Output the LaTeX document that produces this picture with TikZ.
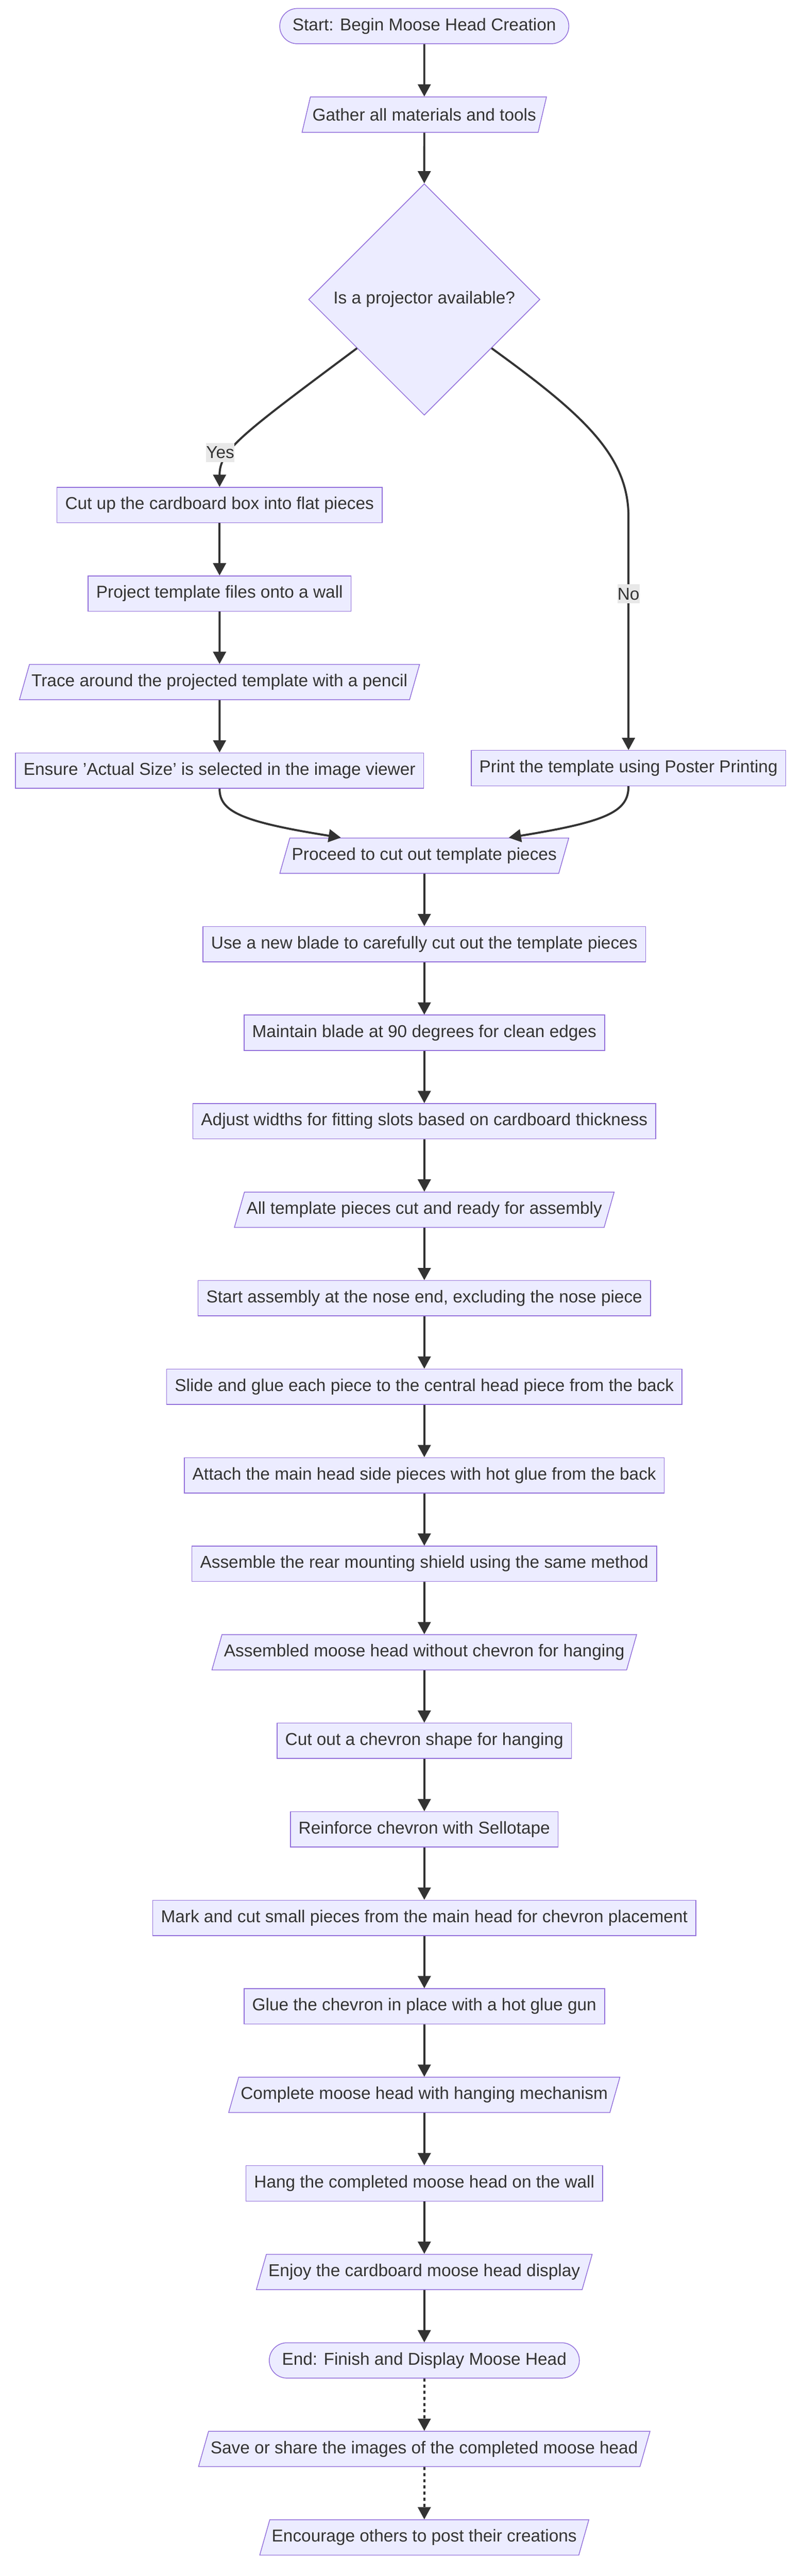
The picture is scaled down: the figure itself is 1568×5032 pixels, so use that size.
\documentclass[tikz,border=0pt]{standalone}
\usepackage{fontspec}
\setmainfont{Liberation Sans}
\usetikzlibrary{shapes.geometric, arrows.meta, positioning, calc}
\definecolor{nodeLilac}{RGB}{236, 236, 255}
\definecolor{borderPurple}{RGB}{147, 112, 219}
\definecolor{inkGray}{RGB}{51, 51, 51}
\definecolor{labelGray}{RGB}{232, 232, 232}
\tikzset{
    % Base Block Style
    baseBox/.style={
        draw=borderPurple,
        fill=nodeLilac,
        line width=0.75pt,
        text=inkGray,
        font=\fontsize{16.8pt}{20pt}\selectfont,
        minimum height=34.5pt,
        inner ysep=2pt
    },
    % Specific Shape Styles
    stepRect/.style={baseBox, rectangle, inner xsep=8pt},
    stepData/.style={baseBox, trapezium, trapezium stretches=true, trapezium left angle=63.5, trapezium right angle=116.5, inner xsep=2pt},
    stepTerm/.style={baseBox, rectangle, rounded corners=17.25pt, inner xsep=12.5pt},
    stepDecision/.style={baseBox, diamond, aspect=1, minimum width=226pt, minimum height=226pt, inner sep=0pt},
    % Arrow & Label Styles
    arrow/.style={-{Triangle[length=12pt, width=12.5pt]}, line width=2pt, draw=inkGray},
    dotArrow/.style={arrow, dash pattern=on 3pt off 3pt},
    edgeLabel/.style={fill=labelGray, text=inkGray, font=\fontsize{16.8pt}{20pt}\selectfont, inner sep=0pt, minimum height=18.5pt}
}
\begin{document}
\begin{tikzpicture}[
    x=0.5pt, y=-0.5pt,
    node distance=51.2pt
]
    \useasboundingbox (0,0) rectangle (1568,5032);

    % --- TOP (Start and Decision) ---
    \node (start) [stepTerm] at (829,51) {Start: Begin Moose Head Creation};
    \node (gather) [stepData, below=of start] {Gather all materials and tools};
    \node (decide) [stepDecision] at (829,585) {Is a projector available?};

    % --- LEFT BRANCH (Projector) ---
    \node (cutBox) [stepRect] at (429,986.5) {Cut up the cardboard box into flat pieces};
    \node (projectWall) [stepRect, below=of cutBox] {Project template files onto a wall};
    \node (tracePencil) [stepData, below=of projectWall] {Trace around the projected template with a pencil};
    \node (actualSize) [stepRect, below=of tracePencil] {Ensure 'Actual Size' is selected in the image viewer};

    % --- RIGHT BRANCH (No projector) ---
    \node (posterPrint) [stepRect] at (1228,1500.5) {Print the template using Poster Printing};

    % --- MAIN COLUMN (Cutting and Assembly) ---
    \node (proceedCut) [stepData] at (829,1671.5) {Proceed to cut out template pieces};
    \node (newBlade) [stepRect, below=of proceedCut] {Use a new blade to carefully cut out the template pieces};
    \node (blade90) [stepRect, below=of newBlade] {Maintain blade at 90 degrees for clean edges};
    \node (adjustSlots) [stepRect, below=of blade90] {Adjust widths for fitting slots based on cardboard thickness};
    \node (piecesReady) [stepData, below=of adjustSlots] {All template pieces cut and ready for assembly};
    \node (noseStart) [stepRect, below=of piecesReady] {Start assembly at the nose end, excluding the nose piece};
    \node (slideGlue) [stepRect, below=of noseStart] {Slide and glue each piece to the central head piece from the back};
    \node (sidePieces) [stepRect, below=of slideGlue] {Attach the main head side pieces with hot glue from the back};
    \node (rearShield) [stepRect, below=of sidePieces] {Assemble the rear mounting shield using the same method};
    \node (headNoChevron) [stepData, below=of rearShield] {Assembled moose head without chevron for hanging};

    % --- CHEVRON AND HANGING ---
    \node (cutChevron) [stepRect, below=of headNoChevron] {Cut out a chevron shape for hanging};
    \node (tapeChevron) [stepRect, below=of cutChevron] {Reinforce chevron with Sellotape};
    \node (markCut) [stepRect, below=of tapeChevron] {Mark and cut small pieces from the main head for chevron placement};
    \node (glueChevron) [stepRect, below=of markCut] {Glue the chevron in place with a hot glue gun};
    \node (headComplete) [stepData, below=of glueChevron] {Complete moose head with hanging mechanism};
    \node (hangHead) [stepRect, below=of headComplete] {Hang the completed moose head on the wall};
    \node (enjoyHead) [stepData, below=of hangHead] {Enjoy the cardboard moose head display};
    \node (finish) [stepTerm, below=of enjoyHead] {End: Finish and Display Moose Head};
    \node (shareImages) [stepData, below=of finish] {Save or share the images of the completed moose head};
    \node (encourage) [stepData, below=of shareImages] {Encourage others to post their creations};

    % --- Arrows ---
    \draw [arrow] (start) -- (gather);
    \draw [arrow] (gather) -- (decide);
    \draw [arrow] ($(decide.west)!0.42!(decide.south)$) .. controls (470,850) and (429,880) .. (cutBox)
        node [edgeLabel, pos=0.65, xshift=-10pt] {Yes};
    \draw [arrow] ($(decide.east)!0.42!(decide.south)$) .. controls (1140,810) and (1228,890) .. (1228,1010)
        -- (posterPrint) node [edgeLabel, pos=0.33] {No};
    \draw [arrow] (cutBox) -- (projectWall);
    \draw [arrow] (projectWall) -- (tracePencil);
    \draw [arrow] (tracePencil) -- (actualSize);
    \draw [arrow] (actualSize.south) .. controls (429,1585) and (470,1605) .. ($(proceedCut.north)+(-163,0)$);
    \draw [arrow] (posterPrint.south) .. controls (1228,1585) and (1187,1605) .. ($(proceedCut.north)+(165,0)$);
    \draw [arrow] (proceedCut) -- (newBlade);
    \draw [arrow] (newBlade) -- (blade90);
    \draw [arrow] (blade90) -- (adjustSlots);
    \draw [arrow] (adjustSlots) -- (piecesReady);
    \draw [arrow] (piecesReady) -- (noseStart);
    \draw [arrow] (noseStart) -- (slideGlue);
    \draw [arrow] (slideGlue) -- (sidePieces);
    \draw [arrow] (sidePieces) -- (rearShield);
    \draw [arrow] (rearShield) -- (headNoChevron);
    \draw [arrow] (headNoChevron) -- (cutChevron);
    \draw [arrow] (cutChevron) -- (tapeChevron);
    \draw [arrow] (tapeChevron) -- (markCut);
    \draw [arrow] (markCut) -- (glueChevron);
    \draw [arrow] (glueChevron) -- (headComplete);
    \draw [arrow] (headComplete) -- (hangHead);
    \draw [arrow] (hangHead) -- (enjoyHead);
    \draw [arrow] (enjoyHead) -- (finish);
    \draw [dotArrow] (finish) -- (shareImages);
    \draw [dotArrow] (shareImages) -- (encourage);

\end{tikzpicture}
\end{document}
